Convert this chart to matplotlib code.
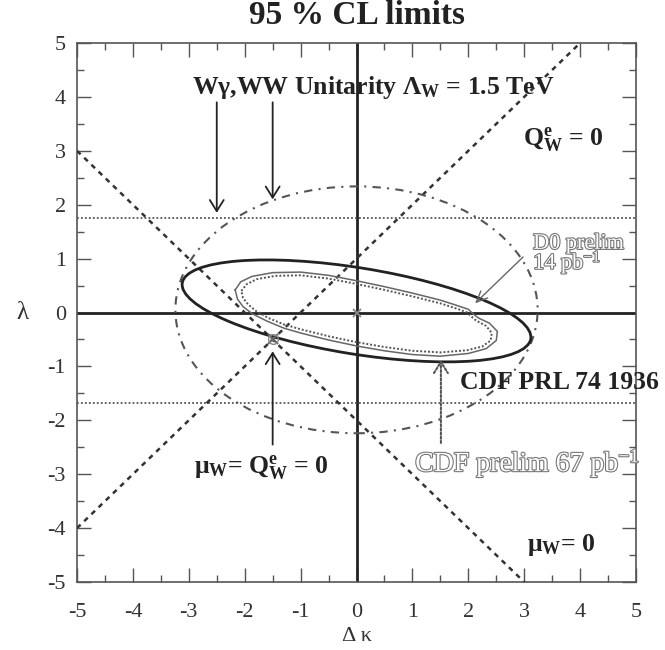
import matplotlib
matplotlib.use("Agg")
import matplotlib.pyplot as plt
from matplotlib.patches import Ellipse
import matplotlib.patheffects as pe
from matplotlib.ticker import MultipleLocator

plt.rcParams['font.family'] = ['Liberation Serif', 'DejaVu Serif']
plt.rcParams['mathtext.fontset'] = 'custom'
plt.rcParams['mathtext.rm'] = 'Liberation Serif'
plt.rcParams['mathtext.bf'] = 'Liberation Serif:bold'
plt.rcParams['mathtext.it'] = 'Liberation Serif:italic'

# ---------------- data ----------------
x_limits = [-5, 5]
y_limits = [-5, 5]
tick_values = [-5, -4, -3, -2, -1, 0, 1, 2, 3, 4, 5]

# W gamma unitarity band (lambda limits)
wg_unitarity_lam = [1.75, -1.67]

# mu_W = 0 line and Q_W^e = 0 line (end points)
mu_line_dk = [-5, 3]
mu_line_lam = [3, -5]
q_line_dk = [-5, 4]
q_line_lam = [-4, 5]

# WW unitarity contour (ellipse: centre, full width, full height, angle)
ww_center = (0.0, 0.05)
ww_width = 6.48
ww_height = 4.58
ww_angle = 0.0

# CDF PRL 74 1936 contour (ellipse)
cdf_center = (0.0, 0.03)
cdf_width = 6.32
cdf_height = 1.60
cdf_angle = -9.5

# D0 prelim 14 pb-1 contour
d0_dk = [-2.17, -2.07, -1.87, -1.5, -1.0, -0.5, 0.0, 0.5, 1.0, 1.5, 1.8, 2.0, 2.08,
         2.18, 2.38, 2.52, 2.50, 2.32, 2.0, 1.5, 1.0, 0.5, 0.0, -0.5, -1.0, -1.3,
         -1.6, -1.87, -2.03, -2.13, -2.17]
d0_lam = [0.42, 0.57, 0.67, 0.74, 0.75, 0.69, 0.59, 0.48, 0.36, 0.23, 0.13, 0.06, -0.02,
          -0.10, -0.20, -0.35, -0.52, -0.67, -0.76, -0.81, -0.78, -0.71, -0.62, -0.51,
          -0.38, -0.29, -0.16, -0.02, 0.11, 0.25, 0.42]

# CDF prelim 67 pb-1 contour
cdfp_dk = [-2.06, -1.96, -1.78, -1.45, -1.0, -0.5, 0.0, 0.5, 1.0, 1.5, 1.8, 1.98, 2.05,
           2.14, 2.32, 2.42, 2.40, 2.25, 1.98, 1.5, 1.0, 0.5, 0.0, -0.5, -1.0, -1.3,
           -1.58, -1.8, -1.94, -2.03, -2.06]
cdfp_lam = [0.40, 0.53, 0.62, 0.68, 0.69, 0.63, 0.53, 0.42, 0.30, 0.17, 0.07, 0.0, -0.07,
            -0.15, -0.25, -0.38, -0.52, -0.63, -0.70, -0.74, -0.71, -0.64, -0.55, -0.44,
            -0.31, -0.22, -0.10, 0.03, 0.15, 0.27, 0.40]

# special points
sm_point = (0.0, 0.0)
mu_q_point = (-1.5, -0.5)

# arrows: (tail, head)
arrow_wg = ((-2.5, 3.9), (-2.5, 1.85))
arrow_ww = ((-1.5, 3.9), (-1.5, 2.1))
arrow_muq = ((-1.5, -2.45), (-1.5, -0.72))
arrow_cdfp = ((1.51, -2.42), (1.51, -0.88))
arrow_d0 = ((2.98, 1.03), (2.12, 0.17))

# ---------------- figure ----------------
fig = plt.figure(figsize=(6.65, 6.5), dpi=100)
ax = fig.add_axes([0.1158, 0.1046, 0.8406, 0.8292])
ax.set_xlim(x_limits)
ax.set_ylim(y_limits)

ax.axhline(0, color='#222', lw=2.0, zorder=2)
ax.axvline(0, color='#222', lw=2.0, zorder=2)

for yl in wg_unitarity_lam:
    ax.axhline(yl, color='#555', lw=1.3, ls=(0, (1, 1.2)), zorder=2)

ax.plot(mu_line_dk, mu_line_lam, color='#333', lw=1.8, ls=(0, (2, 2)), zorder=3)
ax.plot(q_line_dk, q_line_lam, color='#333', lw=1.8, ls=(0, (2, 2)), zorder=3)

ax.add_patch(Ellipse(ww_center, ww_width, ww_height, angle=ww_angle, fill=False,
                     ec='#555', lw=1.5, ls=(0, (4, 3, 1, 3)), zorder=3))
ax.add_patch(Ellipse(cdf_center, cdf_width, cdf_height, angle=cdf_angle, fill=False,
                     ec='#222', lw=2.0, zorder=4))

ax.plot(d0_dk, d0_lam, color='#666', lw=1.1, zorder=4)
ax.plot(cdfp_dk, cdfp_lam, color='#555', lw=1.4, ls=(0, (1, 1)), zorder=4)

ax.plot(*sm_point, marker='x', ms=6, mew=1.3, color='#888', zorder=5)
ax.plot(*mu_q_point, marker='x', ms=7, mew=1.5, color='#666', zorder=5)
ax.plot(*mu_q_point, marker='o', ms=7, mfc='none', mew=1.0, color='#888', zorder=5)

def arrow(tail, head, color='#222', ls='-', lw=1.3, hw=0.5):
    ax.annotate('', xy=head, xytext=tail,
                arrowprops=dict(arrowstyle='->,head_length=0.8,head_width=%.2f' % hw,
                                color=color, lw=lw, ls=ls, shrinkA=0, shrinkB=0),
                zorder=6)

arrow(*arrow_wg)
arrow(*arrow_ww)
arrow(*arrow_muq)
arrow(*arrow_cdfp, color='#555', ls=(0, (1, 1)), lw=1.5)
arrow(*arrow_d0, color='#666', lw=1.0, hw=0.35)

# texts
bold = dict(fontweight='bold', color='#222', fontsize=18.5)
ax.text(-2.94, 4.18, r"Wγ,WW Unitarity Λ$_{\mathbf{W}}$ = 1.5 TeV",
        va='center', ha='left', **bold)
ax.text(2.98, 3.2, r"Q$^{\mathbf{e}}_{\mathbf{W}}$ = 0", va='center', ha='left', **bold)
ax.text(1.85, -1.29, "CDF PRL 74 1936", va='center', ha='left', **bold)
ax.text(-2.9, -2.88, r"μ$_{\mathbf{W}}$= Q$^{\mathbf{e}}_{\mathbf{W}}$ = 0", va='center', ha='left', **bold)
ax.text(3.05, -4.31, r"μ$_{\mathbf{W}}$= 0", va='center', ha='left', **bold)

outline = [pe.withStroke(linewidth=1.6, foreground='#777')]
ax.text(3.16, 1.05, "D0 prelim\n14 pb$^{\\mathrm{-1}}$", va='center', ha='left', fontsize=16,
        color='white', linespacing=0.75, path_effects=outline, zorder=7)
ax.text(1.05, -2.8, "CDF prelim 67 pb$^{\\mathrm{-1}}$", va='center', ha='left', fontsize=20,
        color='white', path_effects=outline, zorder=7)

# axes styling
ax.set_xticks(tick_values)
ax.set_yticks(tick_values)
ax.set_xticklabels([str(t) for t in tick_values])
ax.set_yticklabels([str(t) for t in tick_values])
ax.xaxis.set_minor_locator(MultipleLocator(0.5))
ax.yaxis.set_minor_locator(MultipleLocator(0.5))
ax.tick_params(which='both', direction='in', top=True, right=True, colors='#555',
               labelcolor='#333', labelsize=16, width=1.0)
ax.tick_params(which='major', length=10, pad=8)
ax.tick_params(axis='x', which='major', pad=15)
ax.tick_params(which='minor', length=5)
for s in ax.spines.values():
    s.set_color('#555')
    s.set_linewidth(1.2)

ax.set_xlabel("Δ κ", fontsize=16, color='#333', labelpad=4)
ax.set_ylabel("λ", fontsize=18, color='#333', rotation=0, va='center', labelpad=18)

fig.text(357 / 665, 1 - 15 / 650, "95 % CL limits", ha='center', va='center',
         fontsize=24, fontweight='bold', color='#222')

fig.savefig("out.png", dpi=100)
